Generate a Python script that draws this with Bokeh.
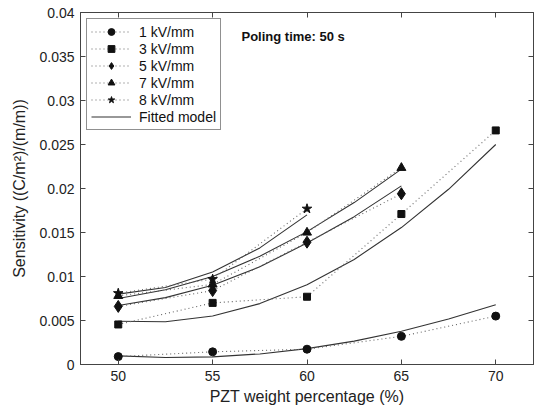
from bokeh.plotting import figure
from bokeh.models import (Range1d, LinearAxis, FixedTicker, Legend, LegendItem, Label,
                          CustomLabelingPolicy)
from bokeh.embed import file_html
from bokeh.resources import INLINE

# ---- data ----
x_pts = [50, 55, 60, 65, 70]
s_1kv = [0.0009, 0.00144, 0.00174, 0.0032, 0.0055]
s_3kv = [0.00455, 0.0070, 0.0077, 0.0171, 0.0266]
s_5kv = [0.0066, 0.0084, 0.0139, 0.0194]
s_7kv = [0.0078, 0.0091, 0.0150, 0.02235]
s_8kv = [0.0081, 0.0097, 0.0177]

fit_x = [50, 52.5, 55, 57.5, 60, 62.5, 65, 67.5, 70]
fit_1kv = [0.00098, 0.00079, 0.00087, 0.0012, 0.0018, 0.00266, 0.00378, 0.00516, 0.0068]
fit_3kv = [0.00492, 0.00485, 0.00552, 0.00692, 0.00906, 0.01194, 0.01556, 0.01991, 0.0250]
fit_5kv = [0.0067, 0.0076, 0.0090, 0.0111, 0.0138, 0.0168, 0.0203]
fit_7kv = [0.0075, 0.0085, 0.0100, 0.0123, 0.0151, 0.0184, 0.0222]
fit_8kv = [0.0080, 0.00875, 0.0105, 0.01325, 0.0170]

series_labels = ["1 kV/mm", "3 kV/mm", "5 kV/mm", "7 kV/mm", "8 kV/mm"]
fit_label = "Fitted model"
x_ticks = [50, 55, 60, 65, 70]
y_ticks = [0, 0.005, 0.01, 0.015, 0.02, 0.025, 0.03, 0.035, 0.04]
y_tick_labels = ["0", "0.005", "0.01", "0.015", "0.02", "0.025", "0.03", "0.035", "0.04"]
x_title = "PZT weight percentage (%)"
y_title = "Sensitivity ((C/m\u00b2)/(m/m))"
note_text = "Poling time: 50 s"

FONT = "Liberation Sans"
AX = "#444444"

p = figure(width=536, height=411, output_backend="svg", toolbar_location=None,
           x_range=Range1d(48, 72), y_range=Range1d(0, 0.04),
           min_border_left=80, min_border_right=3, min_border_top=12, min_border_bottom=47)
p.xgrid.visible = False
p.ygrid.visible = False
p.outline_line_color = AX
p.outline_line_width = 1
p.background_fill_color = "white"
p.border_fill_color = "white"

def style_axis(ax):
    ax.axis_line_color = AX
    ax.major_tick_line_color = AX
    ax.major_tick_in = 5
    ax.major_tick_out = 0
    ax.minor_tick_line_color = None
    ax.major_label_text_font = FONT
    ax.major_label_text_font_size = "14px"
    ax.major_label_text_color = "#222222"
    ax.major_label_standoff = 6
    ax.axis_label_text_font = FONT
    ax.axis_label_text_font_size = "16px"
    ax.axis_label_text_font_style = "normal"
    ax.axis_label_text_color = "#222222"

p.xaxis.ticker = FixedTicker(ticks=x_ticks)
p.yaxis.ticker = FixedTicker(ticks=y_ticks)
p.yaxis.major_label_overrides = {t: l for t, l in zip(y_ticks, y_tick_labels)}
p.xaxis.axis_label = x_title
p.yaxis.axis_label = y_title
p.xaxis.axis_label_standoff = 4
p.yaxis.axis_label_standoff = 8
for ax in p.xaxis + p.yaxis:
    style_axis(ax)

no_labels = CustomLabelingPolicy(code="""
    for (const i of Array.from(indices)) { indices.unset(i) }
    return indices
""")
top = LinearAxis(ticker=FixedTicker(ticks=x_ticks))
right = LinearAxis(ticker=FixedTicker(ticks=y_ticks))
for ax in (top, right):
    style_axis(ax)
    ax.major_label_policy = no_labels
    ax.major_label_text_font_size = "0px"
    ax.major_label_standoff = 0
p.add_layout(top, "above")
p.add_layout(right, "right")

markers = ["circle", "square", "diamond", "triangle", "star"]
sizes = [8, 7, 12, 9, 10]
all_s = [s_1kv, s_3kv, s_5kv, s_7kv, s_8kv]
all_f = [fit_1kv, fit_3kv, fit_5kv, fit_7kv, fit_8kv]

fit_renderers = []
for f in all_f:
    r = p.line(fit_x[:len(f)], f, line_color="#333333", line_width=1.1)
    fit_renderers.append(r)

items = []
for s, m, sz, lab in zip(all_s, markers, sizes, series_labels):
    xs = x_pts[:len(s)]
    dl = p.line(xs, s, line_color="#666666", line_width=1.1, line_dash="1 3")
    sc = p.scatter(xs, s, marker=m, size=sz, fill_color="#111111", line_color="#111111")
    items.append(LegendItem(label=lab, renderers=[dl, sc]))
items.append(LegendItem(label=fit_label, renderers=[fit_renderers[0]]))

legend = Legend(items=items, location="top_left", margin=6, padding=4, spacing=0,
                glyph_width=40, glyph_height=17, label_height=17, label_standoff=8,
                label_text_font=FONT, label_text_font_size="14px",
                label_text_color="#111111",
                border_line_color="#222222", border_line_width=1,
                background_fill_color="white", background_fill_alpha=1)
p.add_layout(legend)

p.add_layout(Label(x=56.53, y=0.0373, text=note_text, text_font=FONT,
                   text_font_size="13px", text_font_style="bold",
                   text_color="#111111", text_baseline="middle", text_align="left"))

open("out.html", "w").write(file_html(p, INLINE))
